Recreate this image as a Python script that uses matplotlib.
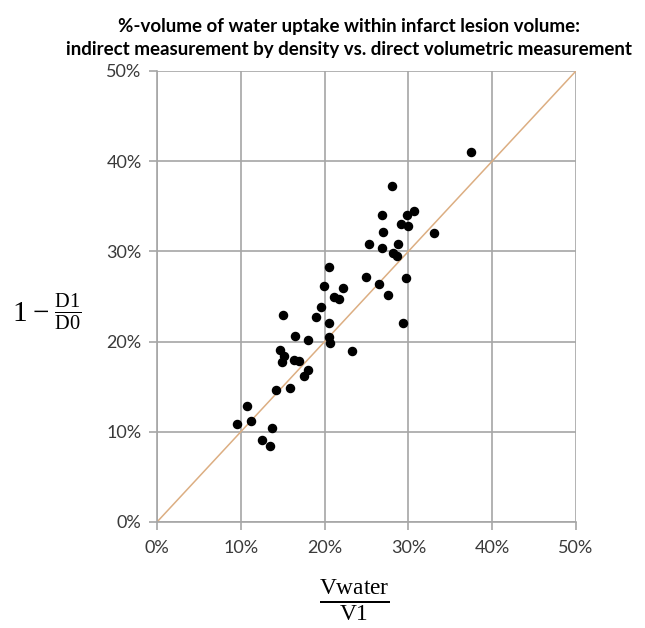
import matplotlib
matplotlib.use("Agg")
import matplotlib.pyplot as plt
from matplotlib.ticker import PercentFormatter

# direct volumetric measurement Vwater/V1 (%) vs. density-based 1 - D1/D0 (%)
vwater_v1 = [37.5, 28.1, 26.9, 30.7, 29.8, 29.1, 30.0, 27.0, 33.0, 25.3,
             28.8, 26.9, 28.2, 28.6, 20.5, 24.9, 29.7, 19.9, 26.5, 22.2,
             21.1, 21.7, 27.6, 19.6, 15.0, 19.0, 20.5, 29.4, 16.5, 18.0,
             20.5, 20.6, 14.7, 23.3, 15.1, 14.9, 16.3, 17.0, 18.0, 17.6,
             14.2, 15.9, 10.7, 11.2, 9.5, 13.7, 12.5, 13.5]
one_minus_d = [41.0, 37.3, 34.0, 34.5, 34.0, 33.0, 32.8, 32.1, 32.0, 30.8,
               30.8, 30.4, 29.8, 29.5, 28.3, 27.2, 27.0, 26.2, 26.4, 25.9,
               24.9, 24.7, 25.2, 23.8, 23.0, 22.7, 22.1, 22.1, 20.6, 20.2,
               20.5, 19.8, 19.1, 19.0, 18.4, 17.7, 18.0, 17.8, 16.9, 16.2,
               14.6, 14.8, 12.9, 11.2, 10.9, 10.4, 9.1, 8.4]
identity = [0, 50]
ticks = [0, 10, 20, 30, 40, 50]

plt.rcParams["mathtext.fontset"] = "custom"
plt.rcParams["mathtext.rm"] = "Liberation Serif"

fig = plt.figure(figsize=(6.45, 6.28), dpi=100)
ax = fig.add_axes([0.2434, 0.1688, 0.6496, 0.7182])

ax.plot(identity, identity, color="#dcae82", lw=1.1, zorder=2)
ax.scatter(vwater_v1, one_minus_d, s=34, color="black", zorder=3)

ax.set_xlim(0, 50)
ax.set_ylim(0, 50)
ax.set_xticks(ticks)
ax.set_yticks(ticks)
ax.xaxis.set_major_formatter(PercentFormatter(decimals=0))
ax.yaxis.set_major_formatter(PercentFormatter(decimals=0))
ax.grid(True, color="#a6a6a6", lw=1.2)
ax.set_axisbelow(True)
for s in ax.spines.values():
    s.set_color("#a6a6a6")
    s.set_linewidth(1.2)
ax.spines["top"].set_visible(False)
ax.spines["right"].set_visible(False)
ax.tick_params(colors="#a6a6a6", labelcolor="#3a3a3a", length=6, width=1.2,
               labelsize=13)
for lab in ax.get_xticklabels() + ax.get_yticklabels():
    lab.set_family("Lato")
ax.tick_params(axis="x", pad=7)
ax.tick_params(axis="y", pad=5)

fig.text(0.541, 0.958, "%-volume of water uptake within infarct lesion volume:",
         ha="center", va="center", fontsize=13.5, fontweight="bold", family="Lato")
fig.text(0.541, 0.921, "indirect measurement by density vs. direct volumetric measurement",
         ha="center", va="center", fontsize=13.5, fontweight="bold", family="Lato")

fig.text(0.072, 0.503, r"$1-\frac{\mathrm{D1}}{\mathrm{D0}}$", ha="center",
         va="center", fontsize=21)
fig.text(0.55, 0.044, r"$\frac{\mathrm{Vwater}}{\mathrm{V1}}$", ha="center",
         va="center", fontsize=24)

fig.savefig("out.png", dpi=100)
